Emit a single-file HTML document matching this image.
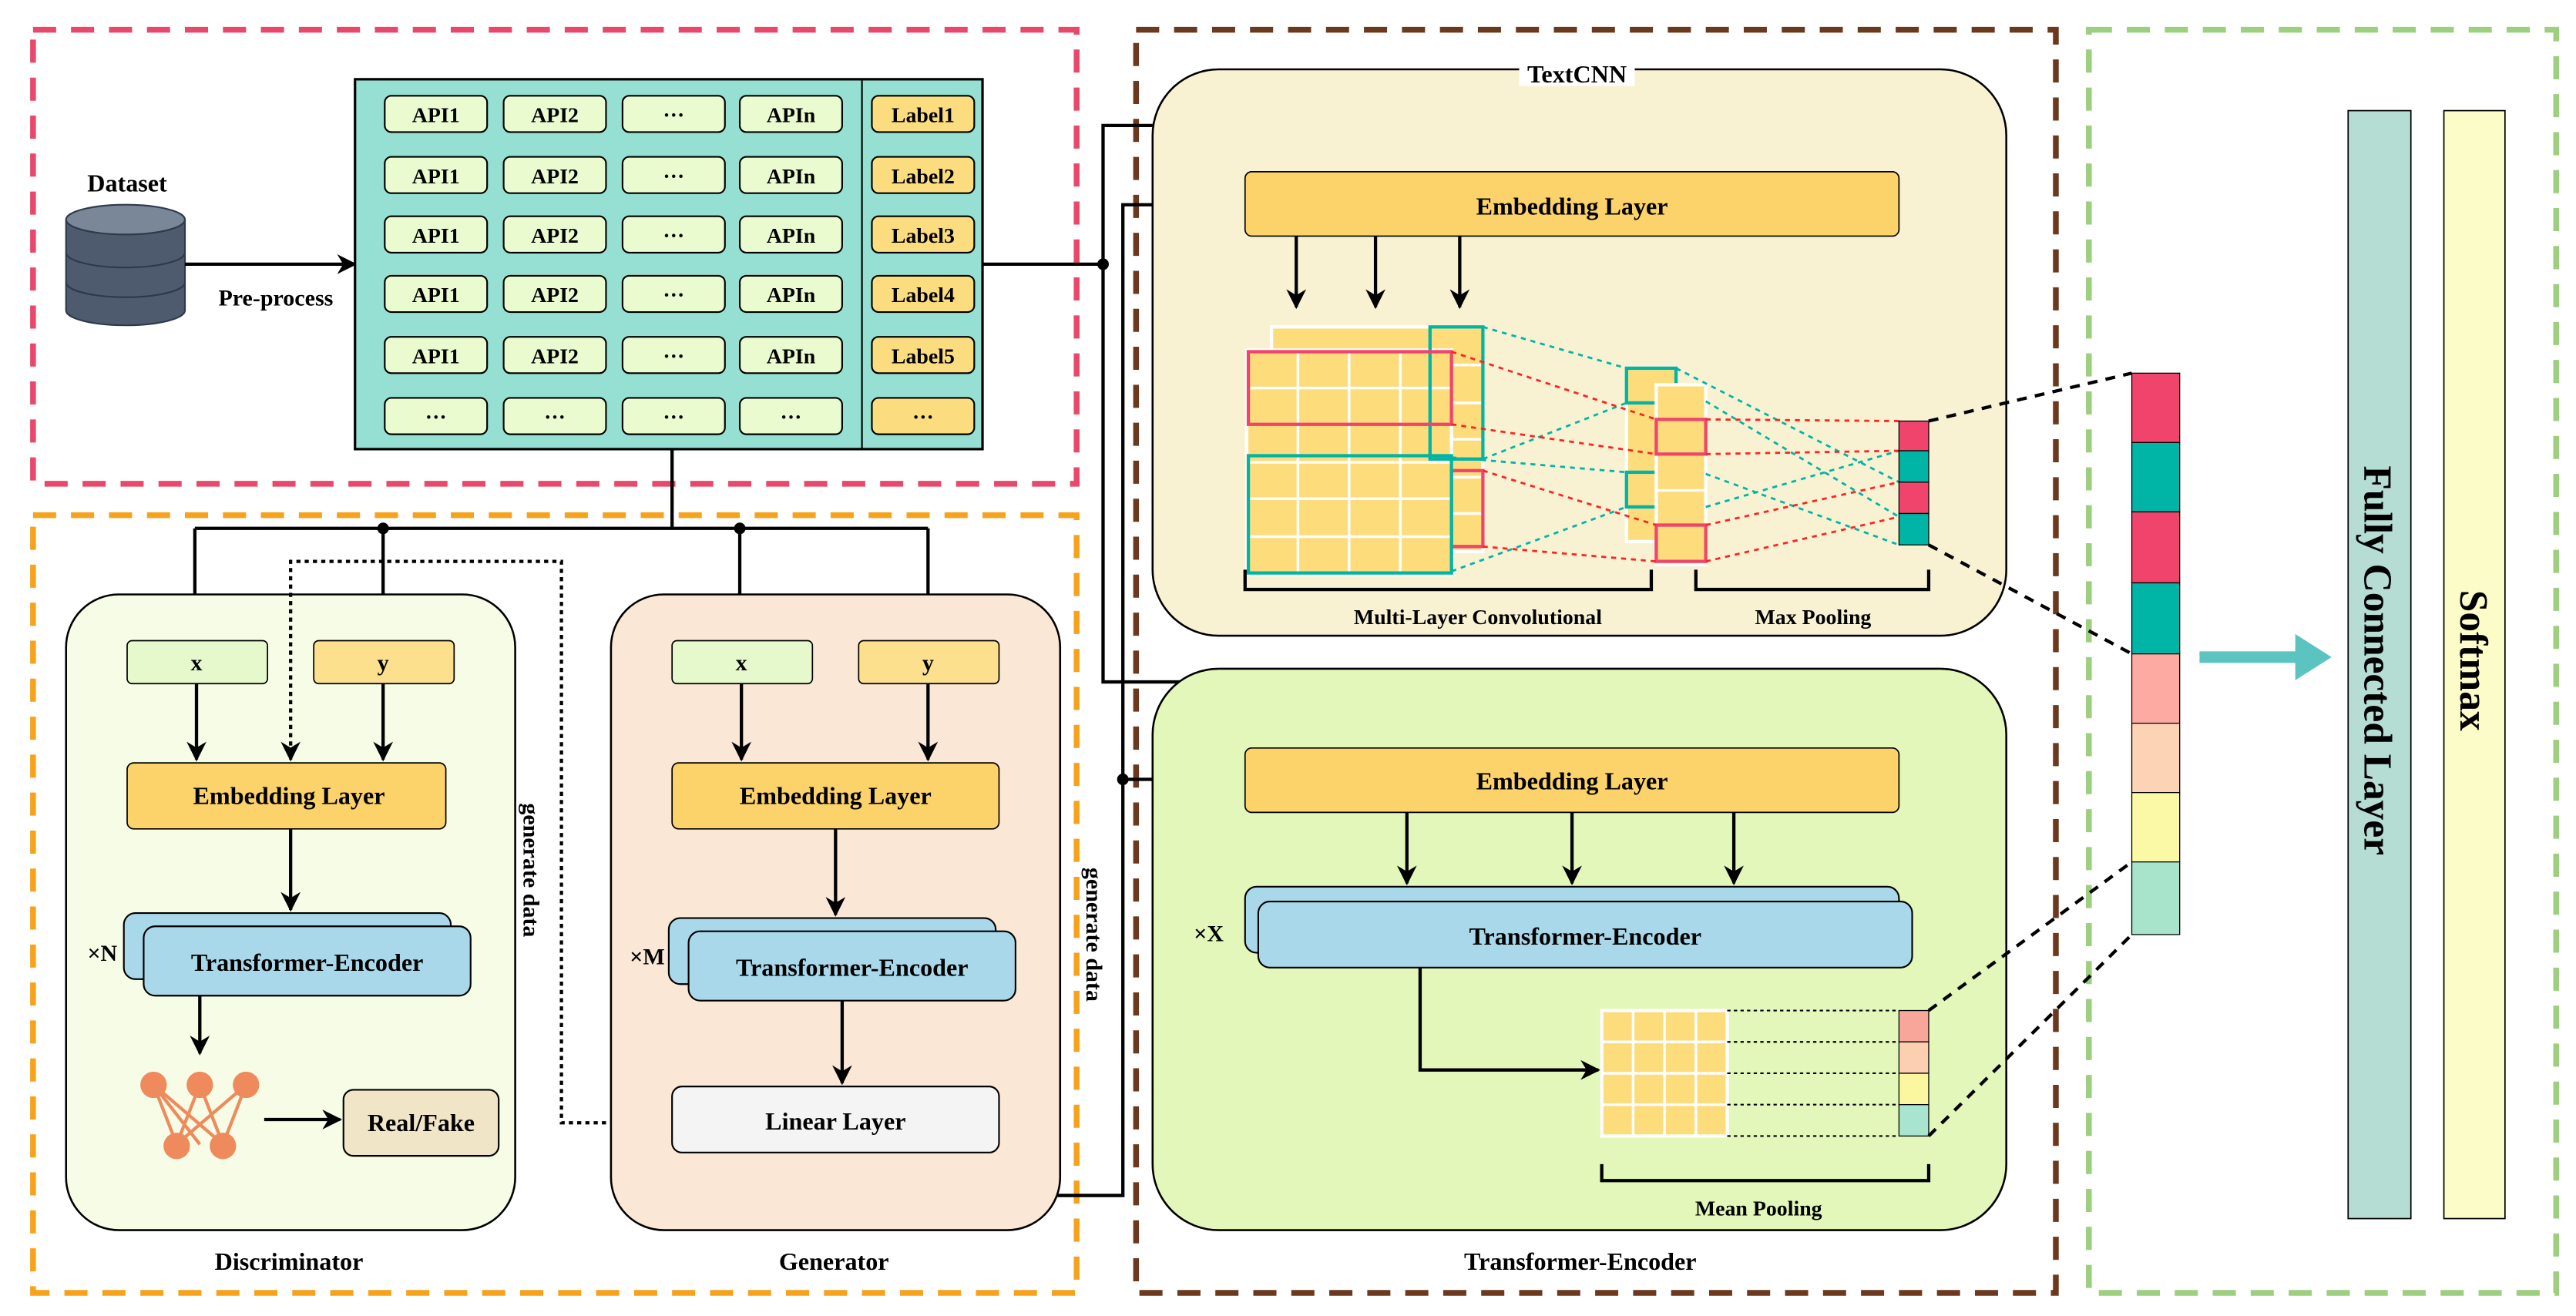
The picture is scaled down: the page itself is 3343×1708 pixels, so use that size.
<!DOCTYPE html>
<html><head><meta charset="utf-8"><style>html,body{margin:0;padding:0;background:#fff}svg{display:block}svg text{font-family:"Liberation Serif","DejaVu Serif",serif;font-weight:bold;fill:#000}</style></head>
<body>
<svg width="3343" height="1708" viewBox="0 0 1560 797" preserveAspectRatio="none" xmlns="http://www.w3.org/2000/svg" font-family="Liberation Serif, serif" font-weight="bold">
<defs>
<marker id="a" viewBox="0 0 10 10" refX="9" refY="5" markerWidth="6" markerHeight="6" orient="auto"><path d="M0,0 L10,5 L0,10 L3,5z" fill="#000"/></marker>
</defs>
<rect x="20" y="18" width="632" height="275" fill="none" stroke="#e8486a" stroke-width="3.5" stroke-dasharray="14,9"/>
<rect x="20" y="312" width="632" height="471" fill="none" stroke="#f7a21b" stroke-width="3.5" stroke-dasharray="14,9"/>
<rect x="688" y="18" width="557" height="765" fill="none" stroke="#6b3a1e" stroke-width="3.5" stroke-dasharray="14,9"/>
<rect x="1265" y="18" width="283" height="765" fill="none" stroke="#9ccf7e" stroke-width="3.5" stroke-dasharray="14,9"/>

<text x="77" y="116" font-size="15" text-anchor="middle">Dataset</text>
<path d="M40,133 v55 a36,9 0 0 0 72,0 v-55" fill="#4e5b6e" stroke="#2e3a4a"/>
<ellipse cx="76" cy="133" rx="36" ry="9" fill="#7a8799" stroke="#2e3a4a"/>
<path d="M40,153 a36,9 0 0 0 72,0 M40,171 a36,9 0 0 0 72,0" fill="none" stroke="#2e3a4a"/>
<line x1="112" y1="160" x2="215" y2="160" stroke="#000" stroke-width="2" marker-end="url(#a)"/>
<text x="167" y="185" font-size="14" text-anchor="middle">Pre-process</text>

<rect x="215" y="48" width="380" height="224" fill="#95e0d2" stroke="#000" stroke-width="1.5"/>
<line x1="522" y1="48" x2="522" y2="272" stroke="#000"/>
<g font-size="13" text-anchor="middle">
<g id="row">
<rect x="233" y="58" width="62" height="22" rx="4" fill="#eafbd0" stroke="#000"/>
<rect x="305" y="58" width="62" height="22" rx="4" fill="#eafbd0" stroke="#000"/>
<rect x="377" y="58" width="62" height="22" rx="4" fill="#eafbd0" stroke="#000"/>
<rect x="448" y="58" width="62" height="22" rx="4" fill="#eafbd0" stroke="#000"/>
<rect x="528" y="58" width="62" height="22" rx="4" fill="#fbdc7e" stroke="#000"/>
</g>
<use href="#row" y="37"/><use href="#row" y="73"/><use href="#row" y="109"/><use href="#row" y="146"/><use href="#row" y="183"/>
<g>
<text x="264" y="74">API1</text><text x="336" y="74">API2</text><text x="408" y="74">···</text><text x="479" y="74">APIn</text><text x="559" y="74">Label1</text>
<text x="264" y="111">API1</text><text x="336" y="111">API2</text><text x="408" y="111">···</text><text x="479" y="111">APIn</text><text x="559" y="111">Label2</text>
<text x="264" y="147">API1</text><text x="336" y="147">API2</text><text x="408" y="147">···</text><text x="479" y="147">APIn</text><text x="559" y="147">Label3</text>
<text x="264" y="183">API1</text><text x="336" y="183">API2</text><text x="408" y="183">···</text><text x="479" y="183">APIn</text><text x="559" y="183">Label4</text>
<text x="264" y="220">API1</text><text x="336" y="220">API2</text><text x="408" y="220">···</text><text x="479" y="220">APIn</text><text x="559" y="220">Label5</text>
<text x="264" y="257">···</text><text x="336" y="257">···</text><text x="408" y="257">···</text><text x="479" y="257">···</text><text x="559" y="257">···</text>
</g></g>

<g stroke="#000" stroke-width="2" fill="none">
<polyline points="595,160 668,160"/>
<polyline points="668,160 668,76 952,76 952,101" marker-end="url(#a)"/>
<polyline points="668,160 668,413 952,413 952,451" marker-end="url(#a)"/>
<polyline points="506,698 506,724 680,724 680,124 752,124" marker-end="url(#a)"/>
<polyline points="680,472 752,472" marker-end="url(#a)"/>
<polyline points="407,272 407,320"/>
<polyline points="118,320 562,320"/>
<polyline points="118,320 118,386" marker-end="url(#a)"/>
<polyline points="232,320 232,386" marker-end="url(#a)"/>
<polyline points="448,320 448,386" marker-end="url(#a)"/>
<polyline points="562,320 562,386" marker-end="url(#a)"/>
</g>
<g fill="#000"><circle cx="668" cy="160" r="3.5"/><circle cx="680" cy="472" r="3.5"/><circle cx="232" cy="320" r="3.5"/><circle cx="448" cy="320" r="3.5"/></g>

<rect x="40" y="360" width="272" height="385" rx="32" fill="#f6fce6" stroke="#000" stroke-width="1.2"/>
<rect x="77" y="388" width="85" height="26" rx="3" fill="#e6f9cc" stroke="#000" stroke-width=".8"/>
<rect x="190" y="388" width="85" height="26" rx="3" fill="#fce08e" stroke="#000" stroke-width=".8"/>
<text x="119" y="406" font-size="14" text-anchor="middle">x</text><text x="232" y="406" font-size="14" text-anchor="middle">y</text>
<rect x="77" y="462" width="193" height="40" rx="4" fill="#fcd26a" stroke="#000" stroke-width=".8"/>
<text x="175" y="487" font-size="15" text-anchor="middle">Embedding Layer</text>
<rect x="75" y="553" width="198" height="40" rx="7" fill="#a9d8ea" stroke="#000"/>
<rect x="87" y="561" width="198" height="42" rx="7" fill="#a9d8ea" stroke="#000"/>
<text x="186" y="588" font-size="15" text-anchor="middle">Transformer-Encoder</text>
<text x="62" y="582" font-size="14" text-anchor="middle">×N</text>
<g stroke="#ef8a5c" stroke-width="2"><line x1="93" y1="657" x2="121" y2="693"/><line x1="93" y1="657" x2="135" y2="693"/><line x1="121" y1="657" x2="107" y2="693"/><line x1="121" y1="657" x2="135" y2="693"/><line x1="149" y1="657" x2="107" y2="693"/><line x1="149" y1="657" x2="135" y2="693"/><line x1="93" y1="657" x2="107" y2="693"/></g>
<g fill="#ef8a5c"><circle cx="93" cy="657" r="8"/><circle cx="121" cy="657" r="8"/><circle cx="149" cy="657" r="8"/><circle cx="107" cy="694" r="8"/><circle cx="135" cy="694" r="8"/></g>
<rect x="208" y="660" width="94" height="40" rx="6" fill="#f1e5c8" stroke="#000"/>
<text x="255" y="685" font-size="15" text-anchor="middle">Real/Fake</text>
<g stroke="#000" stroke-width="2" fill="none">
<line x1="119" y1="414" x2="119" y2="460" marker-end="url(#a)"/>
<line x1="232" y1="414" x2="232" y2="460" marker-end="url(#a)"/>
<line x1="176" y1="502" x2="176" y2="551" marker-end="url(#a)"/>
<line x1="121" y1="603" x2="121" y2="638" marker-end="url(#a)"/>
<line x1="160" y1="678" x2="206" y2="678" marker-end="url(#a)"/>
<polyline points="407,680 340,680 340,340 176,340 176,460" stroke-dasharray="2.5,2.5" marker-end="url(#a)"/>
</g>
<rect x="314" y="460" width="16" height="134" fill="#fff"/>
<text transform="translate(317,527) rotate(90)" font-size="14" text-anchor="middle">generate data</text>
<text x="175" y="769" font-size="15" text-anchor="middle">Discriminator</text>

<rect x="370" y="360" width="272" height="385" rx="32" fill="#fbe7d6" stroke="#000" stroke-width="1.2"/>
<rect x="407" y="388" width="85" height="26" rx="3" fill="#e6f9cc" stroke="#000" stroke-width=".8"/>
<rect x="520" y="388" width="85" height="26" rx="3" fill="#fce08e" stroke="#000" stroke-width=".8"/>
<text x="449" y="406" font-size="14" text-anchor="middle">x</text><text x="562" y="406" font-size="14" text-anchor="middle">y</text>
<rect x="407" y="462" width="198" height="40" rx="4" fill="#fcd26a" stroke="#000" stroke-width=".8"/>
<text x="506" y="487" font-size="15" text-anchor="middle">Embedding Layer</text>
<rect x="405" y="556" width="198" height="40" rx="7" fill="#a9d8ea" stroke="#000"/>
<rect x="417" y="564" width="198" height="42" rx="7" fill="#a9d8ea" stroke="#000"/>
<text x="516" y="591" font-size="15" text-anchor="middle">Transformer-Encoder</text>
<text x="392" y="584" font-size="14" text-anchor="middle">×M</text>
<rect x="407" y="658" width="198" height="40" rx="6" fill="#f4f4f4" stroke="#000"/>
<text x="506" y="684" font-size="15" text-anchor="middle">Linear Layer</text>
<g stroke="#000" stroke-width="2" fill="none">
<line x1="449" y1="414" x2="449" y2="460" marker-end="url(#a)"/>
<line x1="562" y1="414" x2="562" y2="460" marker-end="url(#a)"/>
<line x1="506" y1="502" x2="506" y2="554" marker-end="url(#a)"/>
<line x1="510" y1="606" x2="510" y2="656" marker-end="url(#a)"/>
</g>
<text transform="translate(658,566) rotate(90)" font-size="14" text-anchor="middle">generate data</text>
<text x="505" y="769" font-size="15" text-anchor="middle">Generator</text>

<rect x="698" y="42" width="517" height="343" rx="40" fill="#f8f2d3" stroke="#000" stroke-width="1.2"/>
<rect x="920" y="36" width="70" height="16" fill="#fff"/>
<text x="955" y="50" font-size="15" text-anchor="middle">TextCNN</text>
<rect x="754" y="104" width="396" height="39" rx="4" fill="#fcd26a" stroke="#000" stroke-width=".8"/>
<text x="952" y="130" font-size="15" text-anchor="middle">Embedding Layer</text>
<g stroke="#000" stroke-width="2"><line x1="785" y1="143" x2="785" y2="186" marker-end="url(#a)"/><line x1="833" y1="143" x2="833" y2="186" marker-end="url(#a)"/><line x1="884" y1="143" x2="884" y2="186" marker-end="url(#a)"/></g>
<rect x="770" y="198" width="128" height="136" fill="#fddc7c" stroke="#fff" stroke-width="2"/>
<rect x="755" y="212" width="124" height="136" fill="#fddc7c" stroke="#fff" stroke-width="2"/>
<g stroke="#fff" stroke-width="1.6">
<line x1="786" y1="212" x2="786" y2="348"/><line x1="817" y1="212" x2="817" y2="348"/><line x1="848" y1="212" x2="848" y2="348"/>
<line x1="755" y1="235" x2="879" y2="235"/><line x1="755" y1="257" x2="879" y2="257"/><line x1="755" y1="280" x2="879" y2="280"/><line x1="755" y1="302" x2="879" y2="302"/><line x1="755" y1="325" x2="879" y2="325"/>
<line x1="879" y1="221" x2="898" y2="221"/><line x1="879" y1="244" x2="898" y2="244"/><line x1="879" y1="266" x2="898" y2="266"/><line x1="879" y1="289" x2="898" y2="289"/><line x1="879" y1="311" x2="898" y2="311"/>
</g>
<rect x="866" y="198" width="32" height="80" fill="none" stroke="#00b5a5" stroke-width="2"/>
<rect x="879" y="285" width="19" height="46" fill="none" stroke="#f0446c" stroke-width="2"/>
<rect x="756" y="213" width="123" height="44" fill="none" stroke="#f0446c" stroke-width="2"/>
<rect x="756" y="276" width="123" height="71" fill="none" stroke="#00b5a5" stroke-width="2"/>
<rect x="985" y="223" width="30" height="105" fill="#fddc7c" stroke="#fff" stroke-width="2"/>
<rect x="985" y="223" width="30" height="21" fill="none" stroke="#00b5a5" stroke-width="2"/>
<rect x="985" y="286" width="30" height="21" fill="none" stroke="#00b5a5" stroke-width="2"/>
<rect x="1003" y="233" width="30" height="109" fill="#fddc7c" stroke="#fff" stroke-width="2"/>
<g stroke="#fff" stroke-width="1.5"><line x1="1003" y1="275" x2="1033" y2="275"/><line x1="1003" y1="297" x2="1033" y2="297"/></g>
<rect x="1003" y="254" width="30" height="21" fill="none" stroke="#f0446c" stroke-width="2"/>
<rect x="1003" y="318" width="30" height="22" fill="none" stroke="#f0446c" stroke-width="2"/>
<g stroke-width="1.3" stroke-dasharray="3,3" fill="none">
<g stroke="#00b5a5"><line x1="898" y1="198" x2="985" y2="223"/><line x1="898" y1="278" x2="985" y2="244"/><line x1="879" y1="277" x2="985" y2="286"/><line x1="879" y1="346" x2="985" y2="307"/>
<line x1="1015" y1="223" x2="1150" y2="292"/><line x1="1033" y1="243" x2="1150" y2="313"/><line x1="1033" y1="287" x2="1150" y2="330"/><line x1="1033" y1="307" x2="1150" y2="273"/></g>
<g stroke="#f22"><line x1="879" y1="213" x2="1003" y2="254"/><line x1="879" y1="257" x2="1003" y2="275"/><line x1="898" y1="285" x2="1003" y2="318"/><line x1="898" y1="331" x2="1003" y2="340"/>
<line x1="1033" y1="254" x2="1150" y2="255"/><line x1="1033" y1="275" x2="1150" y2="273"/><line x1="1033" y1="318" x2="1150" y2="292"/><line x1="1033" y1="340" x2="1150" y2="313"/></g>
</g>
<rect x="1150" y="255" width="18" height="18" fill="#f0446c" stroke="#000" stroke-width=".6"/>
<rect x="1150" y="273" width="18" height="19" fill="#00b5a5" stroke="#000" stroke-width=".6"/>
<rect x="1150" y="292" width="18" height="19" fill="#f0446c" stroke="#000" stroke-width=".6"/>
<rect x="1150" y="311" width="18" height="19" fill="#00b5a5" stroke="#000" stroke-width=".6"/>
<g stroke="#000" stroke-width="2" fill="none"><polyline points="754,345 754,357 1000,357 1000,345"/><polyline points="1027,345 1027,357 1168,357 1168,345"/></g>
<text x="895" y="378" font-size="13" text-anchor="middle">Multi-Layer Convolutional</text>
<text x="1098" y="378" font-size="13" text-anchor="middle">Max Pooling</text>

<rect x="698" y="405" width="517" height="340" rx="40" fill="#e2f7b9" stroke="#000" stroke-width="1.2"/>
<rect x="754" y="453" width="396" height="39" rx="4" fill="#fcd26a" stroke="#000" stroke-width=".8"/>
<text x="952" y="478" font-size="15" text-anchor="middle">Embedding Layer</text>
<g stroke="#000" stroke-width="2"><line x1="852" y1="492" x2="852" y2="535" marker-end="url(#a)"/><line x1="952" y1="492" x2="952" y2="535" marker-end="url(#a)"/><line x1="1050" y1="492" x2="1050" y2="535" marker-end="url(#a)"/></g>
<rect x="754" y="537" width="396" height="40" rx="7" fill="#a9d8ea" stroke="#000"/>
<rect x="762" y="546" width="396" height="40" rx="7" fill="#a9d8ea" stroke="#000"/>
<text x="960" y="572" font-size="15" text-anchor="middle">Transformer-Encoder</text>
<text x="732" y="570" font-size="14" text-anchor="middle">×X</text>
<polyline points="860,586 860,648 968,648" stroke="#000" stroke-width="2" fill="none" marker-end="url(#a)"/>
<rect x="970" y="612" width="76" height="76" fill="#fddc7c" stroke="#fff" stroke-width="2"/>
<g stroke="#fff" stroke-width="1.6"><line x1="989" y1="612" x2="989" y2="688"/><line x1="1008" y1="612" x2="1008" y2="688"/><line x1="1027" y1="612" x2="1027" y2="688"/><line x1="970" y1="631" x2="1046" y2="631"/><line x1="970" y1="650" x2="1046" y2="650"/><line x1="970" y1="669" x2="1046" y2="669"/></g>
<g stroke="#000" stroke-width="1" stroke-dasharray="2,2"><line x1="1046" y1="612" x2="1150" y2="612"/><line x1="1046" y1="631" x2="1150" y2="631"/><line x1="1046" y1="650" x2="1150" y2="650"/><line x1="1046" y1="669" x2="1150" y2="669"/><line x1="1046" y1="688" x2="1150" y2="688"/></g>
<rect x="1150" y="612" width="18" height="19" fill="#f8a59a" stroke="#000" stroke-width=".6"/>
<rect x="1150" y="631" width="18" height="19" fill="#fccfb0" stroke="#000" stroke-width=".6"/>
<rect x="1150" y="650" width="18" height="19" fill="#fbf6a0" stroke="#000" stroke-width=".6"/>
<rect x="1150" y="669" width="18" height="19" fill="#a8e4d0" stroke="#000" stroke-width=".6"/>
<polyline points="970,705 970,715 1168,715 1168,705" stroke="#000" stroke-width="2" fill="none"/>
<text x="1065" y="736" font-size="13" text-anchor="middle">Mean Pooling</text>
<text x="957" y="769" font-size="15" text-anchor="middle">Transformer-Encoder</text>

<g stroke="#000" stroke-width=".6">
<rect x="1291" y="226" width="29" height="42" fill="#f0446c"/><rect x="1291" y="268" width="29" height="42" fill="#00b5a5"/>
<rect x="1291" y="310" width="29" height="43" fill="#f0446c"/><rect x="1291" y="353" width="29" height="43" fill="#00b5a5"/>
<rect x="1291" y="396" width="29" height="42" fill="#fcaaa2"/><rect x="1291" y="438" width="29" height="42" fill="#fdd3b5"/>
<rect x="1291" y="480" width="29" height="42" fill="#fbf9a6"/><rect x="1291" y="522" width="29" height="44" fill="#a8e3cc"/>
</g>
<g stroke="#000" stroke-width="2" stroke-dasharray="6,5"><line x1="1168" y1="255" x2="1291" y2="226"/><line x1="1168" y1="330" x2="1291" y2="396"/><line x1="1168" y1="612" x2="1291" y2="522"/><line x1="1168" y1="688" x2="1291" y2="566"/></g>
<line x1="1332" y1="398" x2="1392" y2="398" stroke="#5bc4c0" stroke-width="7"/>
<path d="M1390,384 L1412,398 L1390,412z" fill="#5bc4c0"/>

<rect x="1422" y="67" width="38" height="671" fill="#b5ddd3" stroke="#000" stroke-width=".8"/>
<text transform="translate(1432,400) rotate(90)" font-size="24" text-anchor="middle">Fully Connected Layer</text>
<rect x="1480" y="67" width="37" height="671" fill="#fcfcc8" stroke="#000" stroke-width=".8"/>
<text transform="translate(1490,400) rotate(90)" font-size="24" text-anchor="middle">Softmax</text>
</svg>
</body></html>
